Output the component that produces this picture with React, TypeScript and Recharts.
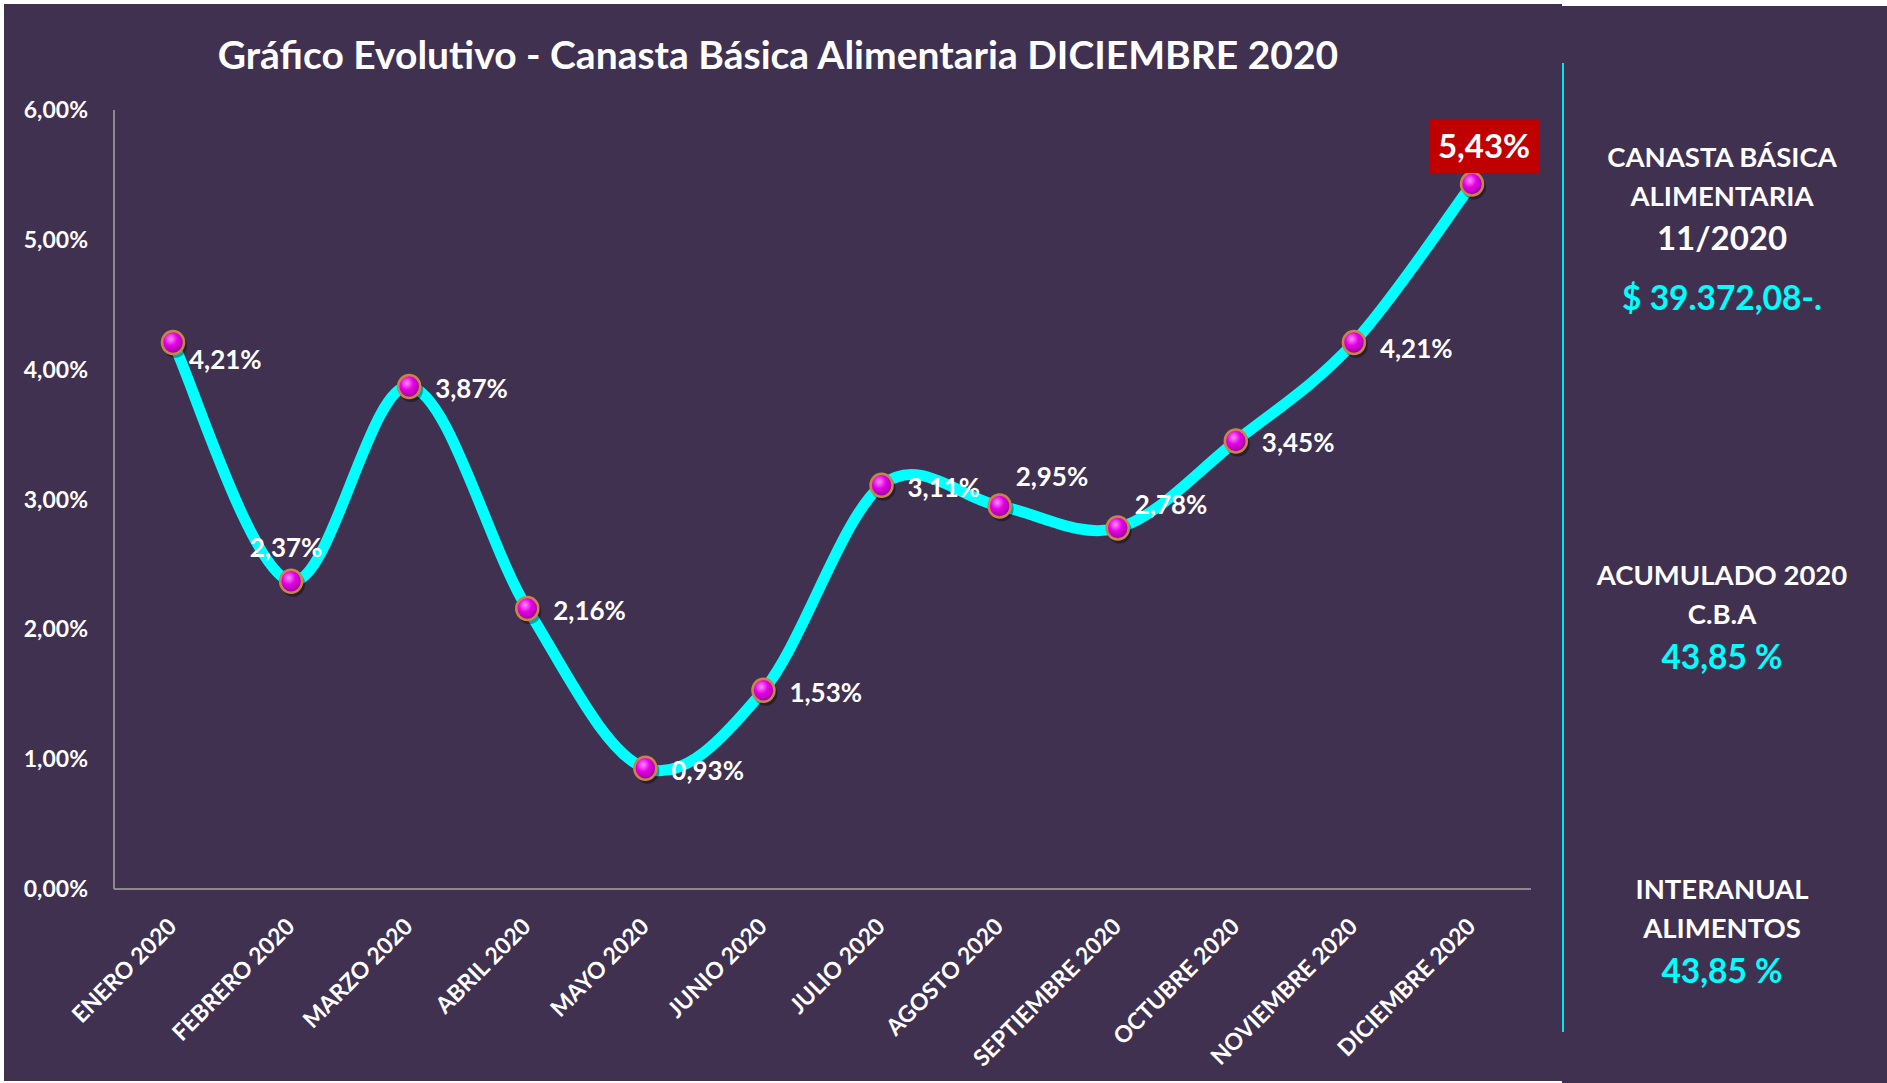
import { LineChart, Line, XAxis, YAxis, LabelList } from 'recharts';

const months = [
  'ENERO 2020',
  'FEBRERO 2020',
  'MARZO 2020',
  'ABRIL 2020',
  'MAYO 2020',
  'JUNIO 2020',
  'JULIO 2020',
  'AGOSTO 2020',
  'SEPTIEMBRE 2020',
  'OCTUBRE 2020',
  'NOVIEMBRE 2020',
  'DICIEMBRE 2020',
];
const variation = [4.21, 2.37, 3.87, 2.16, 0.93, 1.53, 3.11, 2.95, 2.78, 3.45, 4.21, 5.43];
const yTicks = [0, 1, 2, 3, 4, 5, 6];

const title = 'Gráfico Evolutivo - Canasta Básica Alimentaria DICIEMBRE 2020';
const sideBlocks = [
  { lines: ['CANASTA BÁSICA', 'ALIMENTARIA'], sub: '11/2020', value: '$ 39.372,08-.' },
  { lines: ['ACUMULADO 2020', 'C.B.A'], sub: '', value: '43,85 %' },
  { lines: ['INTERANUAL', 'ALIMENTOS'], sub: '', value: '43,85 %' },
];

const data = months.map((month, i) => ({ month, value: variation[i] }));

// where each data label sits relative to its point (Excel labels were nudged by hand)
const labelSpots = [
  { dx: 16, dy: 17, anchor: 'start' },
  { dx: -5, dy: -34, anchor: 'middle' },
  { dx: 26, dy: 2, anchor: 'start' },
  { dx: 26, dy: 2, anchor: 'start' },
  { dx: 26, dy: 2, anchor: 'start' },
  { dx: 26, dy: 2, anchor: 'start' },
  { dx: 26, dy: 2, anchor: 'start' },
  { dx: 16, dy: -29, anchor: 'start' },
  { dx: 17, dy: -23, anchor: 'start' },
  { dx: 26, dy: 2, anchor: 'start' },
  { dx: 26, dy: 6, anchor: 'start' },
  { dx: 12, dy: -38, anchor: 'middle', boxed: true },
];

const FONT = "Lato, 'Open Sans', sans-serif";
const BG = '#403151';
const CYAN = '#00FFFF';

const pct = (v: number) => v.toFixed(2).replace('.', ',') + '%';

// Excel-like smoothed line (Catmull-Rom through the points)
function smoothCurve(context: any) {
  let pts: number[][] = [];
  return {
    areaStart() {},
    areaEnd() {},
    lineStart() {
      pts = [];
    },
    point(x: number, y: number) {
      pts.push([+x, +y]);
    },
    lineEnd() {
      const n = pts.length;
      if (!n) return;
      context.moveTo(pts[0][0], pts[0][1]);
      for (let i = 0; i < n - 1; i++) {
        const p0 = pts[Math.max(i - 1, 0)];
        const p1 = pts[i];
        const p2 = pts[i + 1];
        const p3 = pts[Math.min(i + 2, n - 1)];
        context.bezierCurveTo(
          p1[0] + (p2[0] - p0[0]) / 6,
          p1[1] + (p2[1] - p0[1]) / 6,
          p2[0] - (p3[0] - p1[0]) / 6,
          p2[1] - (p3[1] - p1[1]) / 6,
          p2[0],
          p2[1]
        );
      }
    },
  };
}

const renderDot = (props: any) => {
  const { cx, cy, index } = props;
  return (
    <g key={`dot-${index}`}>
      <ellipse cx={cx + 2} cy={cy + 3} rx={12} ry={12.5} fill="#000" opacity={0.35} />
      <ellipse cx={cx} cy={cy} rx={11} ry={11.5} fill="url(#ballFill)" stroke="#C98546" strokeWidth={2.5} />
    </g>
  );
};

const renderLabel = (props: any) => {
  const { x, y, value, index } = props;
  const spot = labelSpots[index] || labelSpots[2];
  const lx = x + spot.dx;
  const ly = y + spot.dy;
  if (spot.boxed) {
    return (
      <g key={`lbl-${index}`}>
        <rect x={lx - 55} y={ly - 27} width={110} height={54} fill="#C00000" />
        <text x={lx} y={ly} dy="0.36em" textAnchor="middle" fill="#fff" fontSize={33} fontWeight="bold" fontFamily={FONT}>
          {pct(value)}
        </text>
      </g>
    );
  }
  return (
    <text key={`lbl-${index}`} x={lx} y={ly} dy="0.36em" textAnchor={spot.anchor} fill="#fff" fontSize={26} fontWeight="bold" fontFamily={FONT}>
      {pct(value)}
    </text>
  );
};

const MonthTick = (props: any) => {
  const { x, y, payload } = props;
  return (
    <text
      transform={`translate(${x + 5},${y + 39}) rotate(-45)`}
      textAnchor="end"
      fill="#fff"
      fontSize={23}
      fontWeight="bold"
      fontFamily={FONT}
    >
      {payload.value}
    </text>
  );
};

export default function App() {
  return (
    <div style={{ position: 'absolute', left: 0, top: 0, width: 1887, height: 1083, background: '#fff', fontFamily: FONT }}>
      <div style={{ position: 'absolute', left: 4, top: 4, width: 1558, height: 1077, background: BG }} />
      <div style={{ position: 'absolute', left: 1562, top: 6, width: 325, height: 1077, background: BG }} />
      <div style={{ position: 'absolute', left: 0, top: 0 }}>
        <LineChart width={1562} height={1081} data={data} margin={{ top: 110, right: 31, bottom: 22, left: 0 }}>
          <XAxis
            dataKey="month"
            interval={0}
            padding={{ left: 59, right: 59 }}
            axisLine={{ stroke: '#8A8A8A', strokeWidth: 2 }}
            tickLine={false}
            tickSize={0}
            tickMargin={0}
            height={170}
            tick={<MonthTick />}
          />
          <YAxis
            domain={[0, 6]}
            ticks={yTicks}
            width={114}
            axisLine={{ stroke: '#8A8A8A', strokeWidth: 2 }}
            tickLine={false}
            tickSize={0}
            tickMargin={26}
            tickFormatter={pct}
            tick={{ fill: '#fff', fontSize: 23, fontWeight: 'bold', fontFamily: FONT }}
          />
          <Line
            dataKey="value"
            type={smoothCurve as any}
            stroke={CYAN}
            strokeWidth={11}
            dot={renderDot}
            activeDot={false}
            isAnimationActive={false}
          >
            <LabelList dataKey="value" content={renderLabel} />
          </Line>
        </LineChart>
      </div>
      <svg width={1887} height={1083} style={{ position: 'absolute', left: 0, top: 0, pointerEvents: 'none' }}>
        <defs>
          <radialGradient id="ballFill" cx="40%" cy="35%" r="65%">
            <stop offset="0%" stopColor="#FF8CFF" />
            <stop offset="45%" stopColor="#E600E6" />
            <stop offset="100%" stopColor="#9A009A" />
          </radialGradient>
        </defs>
        <text x={778} y={69} textAnchor="middle" fill="#fff" fontSize={39} fontWeight="bold" fontFamily={FONT}>
          {title}
        </text>
        <line x1={1563} y1={63} x2={1563} y2={1032} stroke="#00E8E8" strokeWidth={2} />
        {sideBlocks.map((b, i) => {
          const base = [167, 585, 899][i];
          return (
            <g key={i} fontFamily={FONT} fontWeight="bold" textAnchor="middle">
              <text x={1722} y={base} fill="#fff" fontSize={27.5}>{b.lines[0]}</text>
              <text x={1722} y={base + 39} fill="#fff" fontSize={27.5}>{b.lines[1]}</text>
              {b.sub ? (
                <text x={1722} y={base + 83} fill="#fff" fontSize={33}>{b.sub}</text>
              ) : null}
              <text x={1722} y={b.sub ? base + 143 : base + 84} fill={CYAN} fontSize={33.5}>{b.value}</text>
            </g>
          );
        })}
      </svg>
    </div>
  );
}
